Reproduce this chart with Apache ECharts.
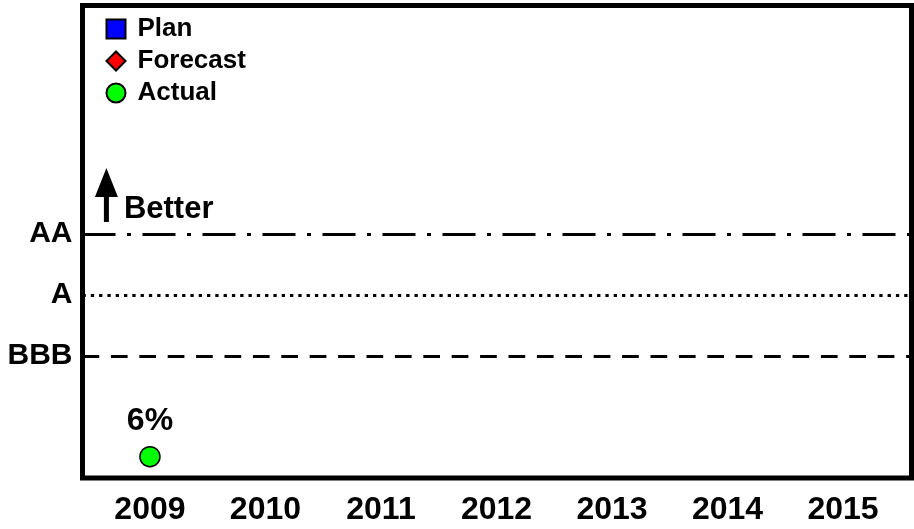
<!DOCTYPE html>
<html>
<head>
<meta charset="utf-8">
<script src="https://cdn.jsdelivr.net/npm/echarts@6/dist/echarts.min.js"></script>
<style>html,body{margin:0;padding:0;background:#fff}#c{width:914px;height:529px}</style>
</head>
<body>
<div id="c"></div>
<script>
// ---- data ----
var years = [2009, 2010, 2011, 2012, 2013, 2014, 2015];
var ratingNames = ['BBB', 'A', 'AA'];
var ratingLevels = [1, 2, 3];
var planValues = [null, null, null, null, null, null, null];
var forecastValues = [null, null, null, null, null, null, null];
var actualValues = [-0.65, null, null, null, null, null, null];
var actualLabels = ['6%', '', '', '', '', '', ''];
var betterText = 'Better';

var FONT = '"Liberation Sans", Arial, sans-serif';

function pairs(vals) {
  var out = [];
  for (var i = 0; i < years.length; i++) {
    if (vals[i] !== null) out.push({ value: [years[i], vals[i]], label: { formatter: actualLabels[i] } });
  }
  return out;
}

var lineTypes = {
  'BBB': [16.7, 11.7],
  'A': [3.3, 5],
  'AA': [33, 11.5, 4, 11.5]
};

var markLines = ratingNames.map(function (n, i) {
  return { yAxis: ratingLevels[i], lineStyle: { color: '#000', width: 3, type: lineTypes[n], opacity: 1 } };
});

var chart = echarts.init(document.getElementById('c'), null, { renderer: 'canvas' });
chart.setOption({
  animation: false,
  backgroundColor: '#fff',
  textStyle: { fontFamily: FONT },
  grid: {
    show: true, left: 82.5, right: 2.5, top: 5.5, bottom: 51,
    borderColor: '#000', borderWidth: 5, backgroundColor: 'transparent', containLabel: false
  },
  legend: {
    orient: 'vertical', left: 105.5, top: 16, padding: 0,
    itemWidth: 19, itemHeight: 19, itemGap: 6,
    data: ['Plan', 'Forecast', 'Actual'],
    itemStyle: { opacity: 1 },
    textStyle: { fontFamily: FONT, fontWeight: 'bold', fontSize: 26, color: '#000', lineHeight: 25, padding: [0, 0, 0, 7] }
  },
  xAxis: {
    type: 'value', min: 2008.416, max: 2015.593,
    axisLine: { show: false }, axisTick: { show: false }, splitLine: { show: false },
    axisLabel: {
      customValues: years, margin: 16,
      fontFamily: FONT, fontWeight: 'bold', fontSize: 32, color: '#000',
      formatter: function (v) { return String(Math.round(v)); }
    }
  },
  yAxis: {
    type: 'value', min: -1, max: 6.75,
    axisLine: { show: false }, axisTick: { show: false }, splitLine: { show: false },
    axisLabel: {
      customValues: ratingLevels, margin: 10,
      fontFamily: FONT, fontWeight: 'bold', fontSize: 30, color: '#000',
      formatter: function (v) { var i = ratingLevels.indexOf(Math.round(v)); return i >= 0 ? ratingNames[i] : ''; }
    }
  },
  series: [
    {
      name: 'Plan', type: 'scatter', symbol: 'rect', symbolSize: 18,
      itemStyle: { color: '#0000ff', borderColor: '#000', borderWidth: 1.5, opacity: 1 },
      data: pairs(planValues)
    },
    {
      name: 'Forecast', type: 'scatter', symbol: 'diamond', symbolSize: [20, 24],
      itemStyle: { color: '#ff0000', borderColor: '#000', borderWidth: 1.5, opacity: 1 },
      data: pairs(forecastValues)
    },
    {
      name: 'Actual', type: 'scatter', symbol: 'circle', symbolSize: 20,
      itemStyle: { color: '#00ff00', borderColor: '#000', borderWidth: 1.5, opacity: 1 },
      label: {
        show: true, position: 'top', distance: 9,
        fontFamily: FONT, fontWeight: 'bold', fontSize: 32, color: '#000', opacity: 1
      },
      data: pairs(actualValues),
      markLine: { silent: true, symbol: 'none', label: { show: false }, animation: false, data: markLines },
      markPoint: {
        silent: true, animation: false,
        data: [
          {
            coord: [2008.623, 3.642], symbol: 'path://M11.5,0 L23,29 L14,29 L14,54 L9,54 L9,29 L0,29 Z',
            symbolSize: [23, 54], symbolKeepAspect: false,
            itemStyle: { color: '#000', borderWidth: 0, opacity: 1 }, label: { show: false }
          },
          {
            coord: [2008.77, 3.41], symbol: 'rect', symbolSize: 1,
            itemStyle: { color: 'rgba(0,0,0,0)', borderWidth: 0 },
            label: {
              show: true, position: 'right', distance: 0, formatter: betterText,
              fontFamily: FONT, fontWeight: 'bold', fontSize: 31, color: '#000'
            }
          }
        ]
      }
    }
  ]
});
</script>
</body>
</html>
